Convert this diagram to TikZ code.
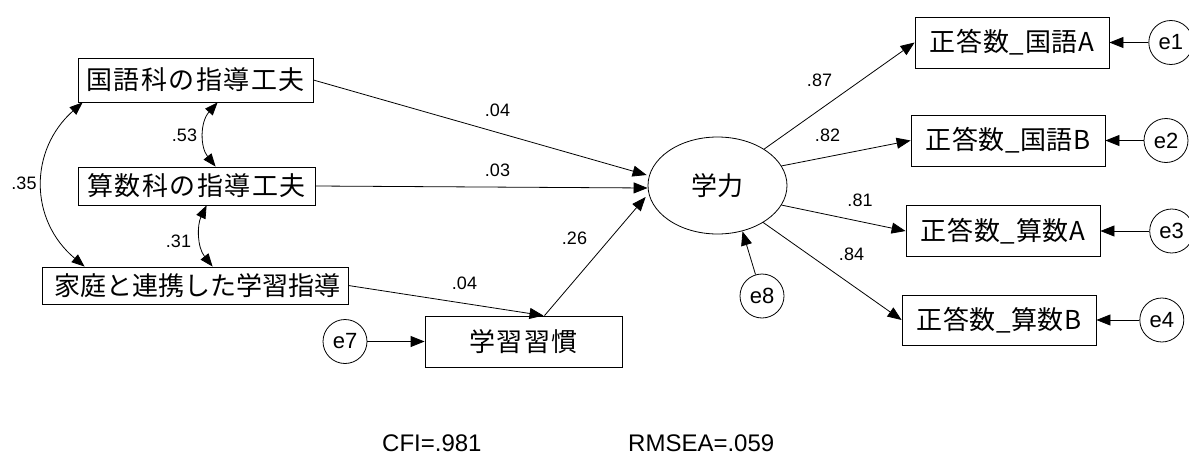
\documentclass[tikz,border=0pt]{standalone}
\usepackage{fontspec}
\setmainfont{Liberation Sans}
\newfontfamily\jp{Noto Sans CJK JP}
\usetikzlibrary{arrows.meta,shapes.geometric}
% spread the characters of #2 evenly over a width of #1
\def\spcx#1#2{\hbox to #1{\spcxA#2\relax}}
\def\spcxA#1{\ifx\relax#1\else#1\expandafter\spcxB\fi}
\def\spcxB#1{\ifx\relax#1\else\hfill#1\expandafter\spcxB\fi}
\tikzset{
  box/.style={draw, line width=0.8pt, inner sep=0pt, font=\jp\fontsize{26}{26}\selectfont},
  err/.style={draw, circle, line width=0.8pt, minimum size=44pt, inner sep=0pt, font=\fontsize{22}{22}\selectfont},
  lab/.style={inner sep=0pt, font=\fontsize{18}{18}\selectfont},
  fit/.style={inner sep=0pt, anchor=base west, font=\fontsize{24}{24}\selectfont},
  arr/.style={line width=0.8pt, -{Triangle[length=14pt,width=11pt]}},
  darr/.style={line width=0.8pt, {Triangle[length=13pt,width=10pt]}-{Triangle[length=13pt,width=10pt]}},
}
\begin{document}
\begin{tikzpicture}[x=1pt,y=-1pt]
\useasboundingbox (0,0) rectangle (1189,455);
% observed predictors
\node[box, minimum width=235pt, minimum height=44pt] (n1) at (195.5,80) {\spcx{218pt}{国語科の指導工夫}};
\node[box, minimum width=237pt, minimum height=38pt] (n2) at (196.5,186) {\spcx{219pt}{算数科の指導工夫}};
\node[box, minimum width=306pt, minimum height=37pt] (n3) at (195,285.5) {\spcx{282pt}{家庭と連携した学習指導}};
\node[box, minimum width=197pt, minimum height=51pt] (hab) at (523.5,341.5) {\spcx{109pt}{学習習慣}};
% latent
\node[box, ellipse, minimum width=139pt, minimum height=97pt] (ability) at (717.5,185.5) {\spcx{53pt}{学力}};
% indicators
\node[box, minimum width=194pt, minimum height=51pt] (y1) at (1012,42.5) {\spcx{165pt}{正答数\_国語A}};
\node[box, minimum width=194pt, minimum height=51pt] (y2) at (1008,140.5) {\spcx{165pt}{正答数\_国語B}};
\node[box, minimum width=194pt, minimum height=51pt] (y3) at (1003,231) {\spcx{165pt}{正答数\_算数A}};
\node[box, minimum width=194pt, minimum height=50pt] (y4) at (999,320) {\spcx{165pt}{正答数\_算数B}};
% errors
\node[err] (e1) at (1170.8,42.5) {e1};
\node[err] (e2) at (1166,140.5) {e2};
\node[err] (e3) at (1171.7,231) {e3};
\node[err] (e4) at (1161.8,320) {e4};
\node[err] (e7) at (345,341.5) {e7};
\node[err] (e8) at (762,296) {e8};
% paths
\draw[arr] (n1.east) -- ([xshift=-1pt,yshift=10.5pt]ability.west);
\draw[arr] (n2.east) -- ([yshift=-2.5pt]ability.west);
\draw[arr] (n3.east) -- ([xshift=20pt]hab.north);
\draw[arr] ([xshift=21pt]hab.north) -- ([xshift=-2pt,yshift=-11.5pt]ability.west);
\draw[arr] (e7) -- (hab.west);
\draw[arr] (e8) -- ([xshift=25pt,yshift=3pt]ability.south);
\draw[arr] (ability.38) -- (y1.west);
\draw[arr] (ability.17) -- (y2.west);
\draw[arr] (ability.-17) -- (y3.west);
\draw[arr] (ability.-39) -- (y4.west);
\draw[arr] (e1) -- (y1.east);
\draw[arr] (e2) -- (y2.east);
\draw[arr] (e3) -- (y3.east);
\draw[arr] (e4) -- (y4.east);
% covariances
\draw[darr] ([xshift=5pt]n1.south west) .. controls (29,150) and (29,220) .. ([xshift=43pt]n3.north west);
\draw[darr] ([xshift=140pt]n1.south west) .. controls (200,122) and (200,147) .. ([xshift=138pt]n2.north west);
\draw[darr] ([xshift=129pt]n2.south west) .. controls (197,225) and (197,247) .. ([xshift=171pt]n3.north west);
% labels
\node[lab] (l1) at (497.5,110) {.04};
\node[lab] (l2) at (497.5,170) {.03};
\node[lab] (l3) at (574.5,238.5) {.26};
\node[lab] (l4) at (464.5,283.5) {.04};
\node[lab] (l5) at (184.5,135) {.53};
\node[lab] (l6) at (178.5,241.5) {.31};
\node[lab] (l7) at (24,183.5) {.35};
\node[lab] (l8) at (819.5,80) {.87};
\node[lab] (l9) at (827.5,135) {.82};
\node[lab] (l10) at (860,200) {.81};
\node[lab] (l11) at (851.5,254.5) {.84};
% fit indices
\node[fit] (cfi) at (382,451.5) {CFI=.981};
\node[fit] (rmsea) at (628,451.5) {RMSEA=.059};
\end{tikzpicture}
\end{document}
